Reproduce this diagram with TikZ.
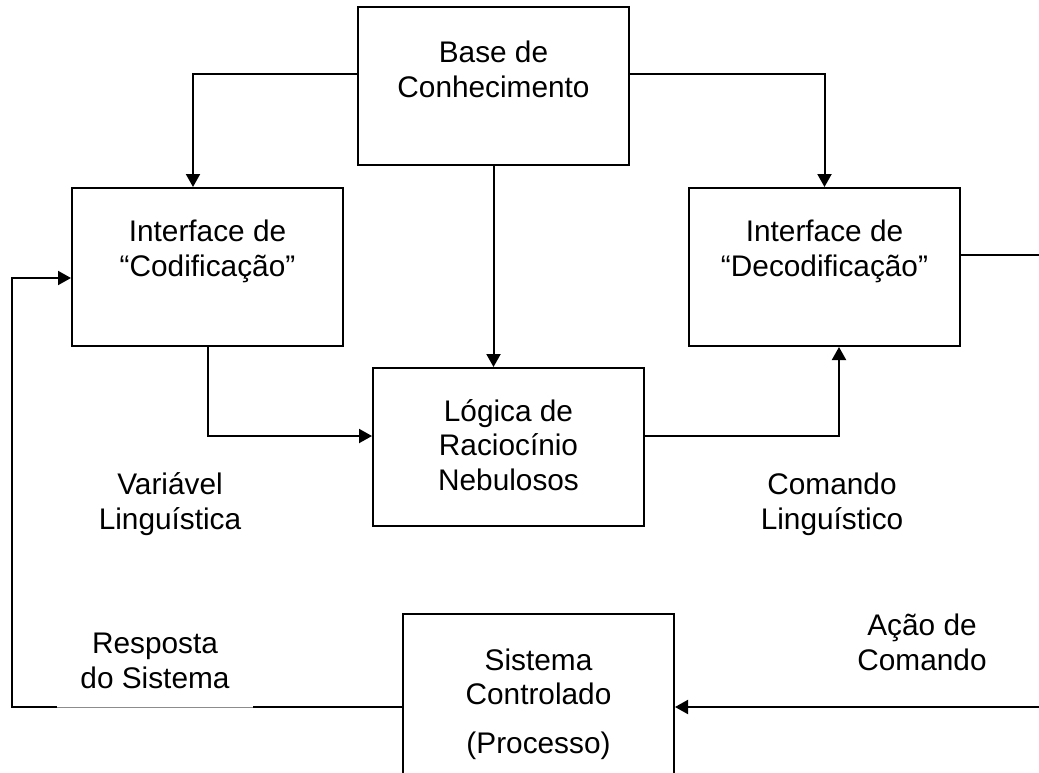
\documentclass[tikz,border=0pt]{standalone}
\usepackage{fontspec}
\setmainfont{Liberation Sans}
\usetikzlibrary{arrows.meta}
\begin{document}
\begin{tikzpicture}[x=1pt,y=-1pt,
  box/.style={draw, line width=2pt, minimum width=271pt, minimum height=158pt, inner sep=0pt},
  txt/.style={align=center, anchor=base, inner sep=0pt, font=\fontsize{29.8}{34.5}\selectfont},
  conn/.style={line width=2pt},
  arr/.style={conn, -{Triangle[length=13pt,width=14pt]}}]
\useasboundingbox (0,0) rectangle (1039,772);

% blocks
\node[box] (base) at (493.5,86) {};
\node[box] (cod) at (207.5,267) {};
\node[box] (dec) at (824.5,267) {};
\node[box] (log) at (508.5,447) {};
\node[box, minimum height=186pt] (sys) at (538.5,707) {};

% block texts (positioned by the baseline of their last line)
\node[txt] (baseT) at (493.5,97) {Base de\\Conhecimento};
\node[txt] (codT) at (207.5,276) {Interface de\\“Codificação”};
\node[txt] (decT) at (824.5,276) {Interface de\\“Decodificação”};
\node[txt] (logT) at (508.5,490) {Lógica de\\Raciocínio\\Nebulosos};
\node[txt] (sysT) at (538.5,753) {Sistema\\Controlado\\[14pt](Processo)};

% signal labels
\node[txt] (varT) at (170,529) {Variável\\Linguística};
\node[txt] (cmdT) at (832,529) {Comando\\Linguístico};
\node[txt] (respT) at (155,688) {Resposta\\do Sistema};
\node[txt] (acaoT) at (922,670) {Ação de\\Comando};

% helper points of the feedback loop
\coordinate (rt) at (1048,255);
\coordinate (rb) at (1048,707);
\coordinate (lc) at (12,500);

% connectors
\draw[arr] ([yshift=12pt]base.west) -| ([xshift=-14.5pt]cod.north);
\draw[arr] ([yshift=12pt]base.east) -| (dec.north);
\draw[arr] (base.south) -- (base.south |- log.north);
\draw[arr] (cod.south) |- ([yshift=11pt]log.west);
\draw[arr] ([yshift=11pt]log.east) -| ([xshift=14.5pt]dec.south);
\draw[arr] ([yshift=12pt]dec.east) -- (rt) -- (rb) -- (sys.east);
\draw[arr] (sys.west) -| (lc) |- ([yshift=-11pt]cod.west);

% lighter stretch under the response label
\draw[white, line width=2.4pt] (57,707) -- (253,707);
\draw[black!45, line width=1pt] (57,707) -- (253,707);
\end{tikzpicture}
\end{document}
